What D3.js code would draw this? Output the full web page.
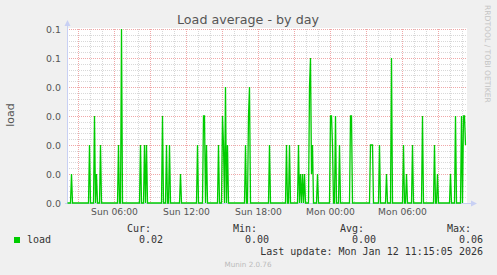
<!DOCTYPE html>
<html>
<head>
<meta charset="utf-8">
<script src="https://cdn.jsdelivr.net/npm/d3@7"></script>
<style>
  html, body { margin: 0; padding: 0; background: #f0f0f0; }
  svg { display: block; }
  text { font-family: "DejaVu Sans", sans-serif; }
  .mono { font-family: "DejaVu Sans Mono", monospace; font-size: 10px; fill: #333; }
</style>
</head>
<body>
<div id="chart"></div>
<script>
// load samples that are above zero (5 minute steps), everything else reads 0.00
const spikeTimes = [
  "2026-01-11 02:25", "2026-01-11 03:55", "2026-01-11 04:20", "2026-01-11 04:30", "2026-01-11 04:50",
  "2026-01-11 06:20", "2026-01-11 06:35", "2026-01-11 08:10", "2026-01-11 08:30", "2026-01-11 08:40",
  "2026-01-11 10:00", "2026-01-11 10:20", "2026-01-11 10:35", "2026-01-11 11:30", "2026-01-11 12:55",
  "2026-01-11 13:25", "2026-01-11 13:30", "2026-01-11 13:40", "2026-01-11 14:40", "2026-01-11 15:00",
  "2026-01-11 15:05", "2026-01-11 15:15", "2026-01-11 15:25", "2026-01-11 16:55", "2026-01-11 17:10",
  "2026-01-11 17:15", "2026-01-11 18:55", "2026-01-11 20:20", "2026-01-11 20:35", "2026-01-11 21:20",
  "2026-01-11 21:30", "2026-01-11 21:40", "2026-01-11 21:50", "2026-01-11 22:15", "2026-01-11 22:20",
  "2026-01-11 22:25", "2026-01-11 22:30", "2026-01-11 22:55", "2026-01-12 00:00", "2026-01-12 00:05",
  "2026-01-12 00:10", "2026-01-12 00:25", "2026-01-12 00:45", "2026-01-12 01:40", "2026-01-12 01:45",
  "2026-01-12 03:20", "2026-01-12 03:25", "2026-01-12 03:30", "2026-01-12 04:05", "2026-01-12 04:40",
  "2026-01-12 05:05", "2026-01-12 06:05", "2026-01-12 06:20", "2026-01-12 06:50", "2026-01-12 07:40",
  "2026-01-12 08:40", "2026-01-12 08:55", "2026-01-12 10:00", "2026-01-12 10:25", "2026-01-12 10:55",
  "2026-01-12 11:05", "2026-01-12 11:10", "2026-01-12 11:15"
];
const spikeValues = [
  0.01, 0.02, 0.03, 0.01, 0.02,
  0.02, 0.06, 0.02, 0.02, 0.02,
  0.03, 0.02, 0.02, 0.01, 0.02,
  0.03, 0.03, 0.02, 0.02, 0.03,
  0.02, 0.04, 0.02, 0.02, 0.03,
  0.04, 0.02, 0.02, 0.02, 0.02,
  0.01, 0.01, 0.01, 0.04, 0.05,
  0.01, 0.02, 0.01, 0.03, 0.03,
  0.02, 0.03, 0.02, 0.03, 0.03,
  0.02, 0.02, 0.02, 0.02, 0.01,
  0.05, 0.02, 0.01, 0.02, 0.03,
  0.02, 0.01, 0.01, 0.03, 0.03,
  0.03, 0.03, 0.02
];
const firstSample = "2026-01-11 02:05";
const lastSample = "2026-01-12 11:15";

const yTicks = [0, 0.01, 0.02, 0.03, 0.04, 0.05, 0.06];
const yTickLabels = ["0.0", "0.0", "0.0", "0.0", "0.0", "0.1", "0.1"];

const legendHeads = ["Cur:", "Min:", "Avg:", "Max:"];
const legendValues = ["0.02", "0.00", "0.00", "0.06"];

const width = 497, height = 275;
const plotL = 67, plotR = 467, plotT = 29, plotB = 203;

const parse = d3.timeParse("%Y-%m-%d %H:%M");
const t0 = parse(firstSample);
const tLast = parse(lastSample);
const tEnd = d3.timeMinute.offset(t0, 400 * 5);

const byTime = new Map(spikeTimes.map((s, i) => [+parse(s), spikeValues[i]]));
const series = d3.timeMinute.every(5).range(t0, d3.timeMinute.offset(tLast, 1))
  .map(t => ({ t: t, v: byTime.get(+t) || 0 }));

const x = d3.scaleTime().domain([t0, tEnd]).range([plotL, plotR]);
const y = d3.scaleLinear().domain([0, 0.06]).range([plotB, plotT]);

const svg = d3.select("#chart").append("svg").attr("width", width).attr("height", height);
svg.append("rect").attr("width", width).attr("height", height).attr("fill", "#f0f0f0");
svg.append("rect").attr("x", plotL).attr("y", plotT - 1).attr("width", plotR - plotL).attr("height", plotB - plotT + 1).attr("fill", "#ffffff");

// grid
const grid = svg.append("g").attr("shape-rendering", "crispEdges");
const minorY = d3.range(0, 31).map(i => i * 0.002).filter((d, i) => i % 5 !== 0);
grid.selectAll(".hmin").data(minorY).enter().append("line")
  .attr("x1", plotL).attr("x2", plotR)
  .attr("y1", d => Math.round(y(d)) + 0.5).attr("y2", d => Math.round(y(d)) + 0.5)
  .attr("stroke", "#d8d8d8").attr("stroke-dasharray", "1,1");
const hours = d3.timeHour.range(d3.timeMinute.offset(t0, 1), tEnd);
grid.selectAll(".vmin").data(hours.filter(h => h.getHours() % 3 !== 0)).enter().append("line")
  .attr("y1", plotT).attr("y2", plotB)
  .attr("x1", d => Math.round(x(d)) + 0.5).attr("x2", d => Math.round(x(d)) + 0.5)
  .attr("stroke", "#d8d8d8").attr("stroke-dasharray", "1,1");
grid.selectAll(".hmaj").data(yTicks).enter().append("line")
  .attr("x1", plotL).attr("x2", plotR)
  .attr("y1", d => Math.round(y(d)) + 0.5).attr("y2", d => Math.round(y(d)) + 0.5)
  .attr("stroke", "#f0a8a8").attr("stroke-dasharray", "1,1");
grid.selectAll(".vmaj").data(hours.filter(h => h.getHours() % 3 === 0)).enter().append("line")
  .attr("y1", plotT).attr("y2", plotB)
  .attr("x1", d => Math.round(x(d)) + 0.5).attr("x2", d => Math.round(x(d)) + 0.5)
  .attr("stroke", "#f0a8a8").attr("stroke-dasharray", "1,1");

// axes lines and arrows
const axisCol = "#c8d0f4";
svg.append("line").attr("x1", plotL + 0.5).attr("x2", plotL + 0.5).attr("y1", plotB + 1).attr("y2", 22)
  .attr("stroke", axisCol).attr("shape-rendering", "crispEdges");
svg.append("line").attr("x1", plotL - 2).attr("x2", 472).attr("y1", plotB + 0.5).attr("y2", plotB + 0.5)
  .attr("stroke", axisCol).attr("shape-rendering", "crispEdges");
svg.append("path").attr("d", `M${plotL - 2.5},26 L${plotL + 0.5},20 L${plotL + 3.5},26 Z`).attr("fill", axisCol);
svg.append("path").attr("d", `M471,${plotB - 2.5} L477,${plotB + 0.5} L471,${plotB + 3.5} Z`).attr("fill", axisCol);

// y tick labels
const yAxis = d3.axisLeft(y).tickValues(yTicks).tickSize(0).tickPadding(0)
  .tickFormat((d, i) => yTickLabels[i]);
const gy = svg.append("g").attr("transform", `translate(${plotL - 6},0)`).call(yAxis);
gy.select(".domain").remove();
gy.selectAll("text").attr("font-family", "DejaVu Sans").attr("font-size", 9.4).attr("fill", "#555").attr("dy", "0.36em");

// x tick labels
const xAxis = d3.axisBottom(x).tickValues(d3.timeHour.every(6).range(t0, tEnd)).tickSize(0).tickPadding(0)
  .tickFormat(d3.timeFormat("%a %H:%M"));
const gx = svg.append("g").attr("transform", `translate(0,${plotB + 5})`).call(xAxis);
gx.select(".domain").remove();
gx.selectAll("text").attr("font-family", "DejaVu Sans").attr("font-size", 9.2).attr("fill", "#555");

// data line
const line = d3.line().x(d => x(d.t) + 0.5).y(d => y(d.v));
svg.append("path").datum(series).attr("d", line)
  .attr("fill", "none").attr("stroke", "#00cc00").attr("stroke-width", 1.3);

// title and side texts
svg.append("text").attr("x", 248).attr("y", 23.5).attr("text-anchor", "middle")
  .attr("font-size", 12.7).attr("fill", "#555").text("Load average - by day");
svg.append("text").attr("transform", "translate(14,115) rotate(-90)").attr("text-anchor", "middle")
  .attr("font-size", 11).attr("fill", "#555").text("load");
svg.append("text").attr("transform", "translate(485,5) rotate(90)").attr("text-anchor", "start")
  .attr("font-size", 7.6).attr("fill", "#c4c4c4").text("RRDTOOL / TOBI OETIKER");

// legend
svg.append("rect").attr("x", 14).attr("y", 237).attr("width", 6).attr("height", 6).attr("fill", "#00cc00");
svg.append("text").attr("class", "mono").attr("x", 27).attr("y", 243).text("load");
const headX = [151, 257, 364, 471];
const valX = [163, 269, 376, 483];
legendHeads.forEach((h, i) => {
  svg.append("text").attr("class", "mono").attr("x", headX[i]).attr("y", 232).attr("text-anchor", "end").text(h);
  svg.append("text").attr("class", "mono").attr("x", valX[i]).attr("y", 243).attr("text-anchor", "end").text(legendValues[i]);
});
svg.append("text").attr("class", "mono").attr("x", 483).attr("y", 255).attr("text-anchor", "end")
  .text("Last update: Mon Jan 12 11:15:05 2026");
svg.append("text").attr("x", 248).attr("y", 267).attr("text-anchor", "middle")
  .attr("font-size", 7.2).attr("fill", "#bbb").text("Munin 2.0.76");
</script>
</body>
</html>
